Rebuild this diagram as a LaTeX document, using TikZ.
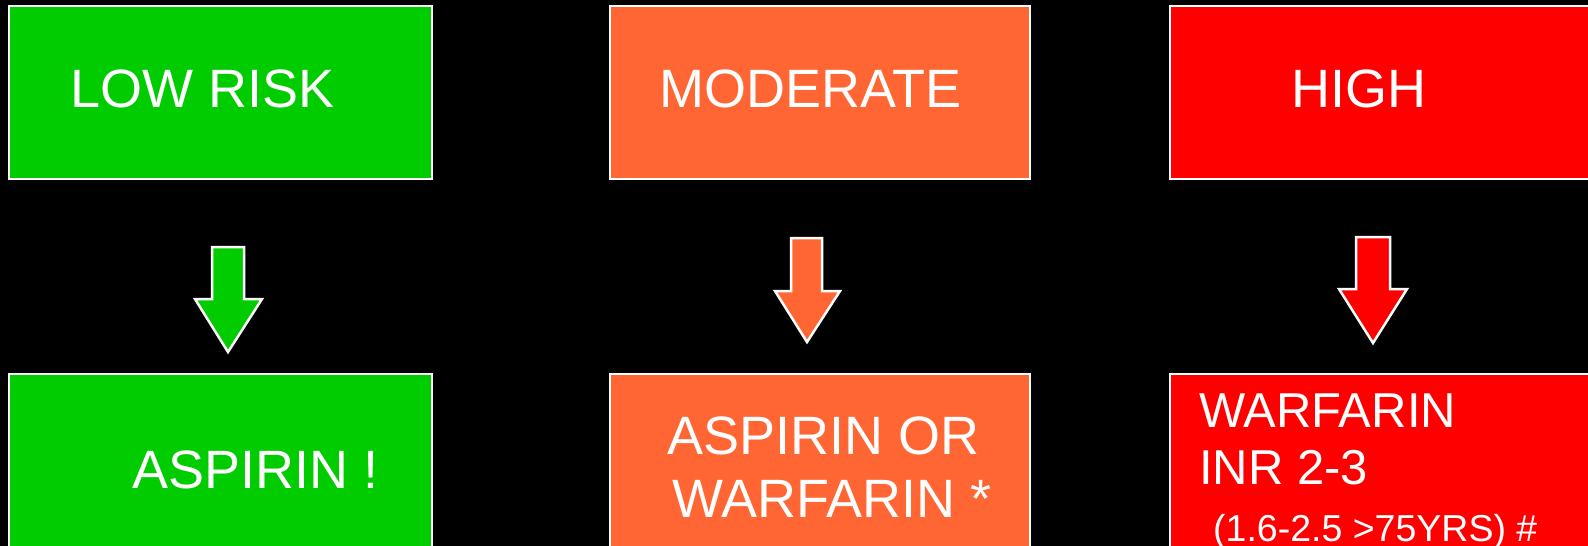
\documentclass[tikz,border=0pt]{standalone}
\usepackage{fontspec}
\setmainfont{Liberation Sans}
\definecolor{lowg}{HTML}{00CC00}
\definecolor{modo}{HTML}{FF6633}
\definecolor{highr}{HTML}{FF0000}
\begin{document}
\begin{tikzpicture}[x=1pt,y=-1pt,
  box/.style={draw=white,line width=2pt},
  arr/.style={draw=white,line width=2.5pt,line join=miter},
  lbl/.style={text=white,anchor=base west,inner sep=0pt,font=\fontsize{54}{60}\selectfont},
  lbls/.style={text=white,anchor=base west,inner sep=0pt,font=\fontsize{49}{56}\selectfont},
  lblt/.style={text=white,anchor=base west,inner sep=0pt,font=\fontsize{37.5}{44}\selectfont}]
\useasboundingbox (0,0) rectangle (1588,546);
\fill[black] (0,0) rectangle (1588,546);
\begin{scope}
\clip (0,0) rectangle (1588,546);
% top boxes
\draw[box,fill=lowg] (9,6) rectangle (432,179);
\draw[box,fill=modo] (610,6) rectangle (1030,179);
\draw[box,fill=highr] (1170,6) rectangle (1600,179);
% bottom boxes
\draw[box,fill=lowg] (9,374) rectangle (432,550);
\draw[box,fill=modo] (610,374) rectangle (1030,550);
\draw[box,fill=highr] (1170,374) rectangle (1600,550);
% arrows
\draw[arr,fill=lowg] (212,247) -- (244,247) -- (244,299) -- (262,299) -- (228,352) -- (195,299) -- (212,299) -- cycle;
\draw[arr,fill=modo] (791,238) -- (822,238) -- (822,291) -- (840,291) -- (807,342) -- (775,291) -- (791,291) -- cycle;
\draw[arr,fill=highr] (1356,237) -- (1390,237) -- (1390,289) -- (1407,289) -- (1373,343) -- (1339,289) -- (1356,289) -- cycle;
% texts
\node[lbl] (t1) at (70,107) {LOW RISK};
\node[lbl] (t2) at (659,107) {MODERATE};
\node[lbl] (t3) at (1291,107) {HIGH};
\node[lbl] (b1) at (132,488) {ASPIRIN !};
\node[lbl] (b2a) at (667,454) {ASPIRIN OR};
\node[lbl] (b2b) at (672,517) {WARFARIN *};
\node[lbls] (b3a) at (1199,427) {WARFARIN};
\node[lbls] (b3b) at (1199,484) {INR 2-3};
\node[lblt] (b3c) at (1213,541) {(1.6-2.5 >75YRS) \#};
\end{scope}
\end{tikzpicture}
\end{document}
